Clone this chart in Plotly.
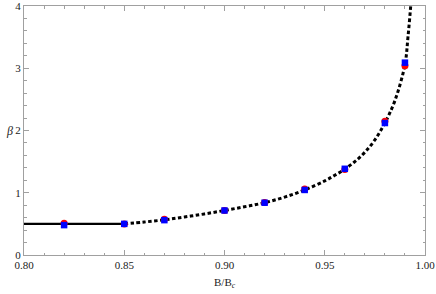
import plotly.graph_objects as go

# Data points
pts_x = [0.82, 0.85, 0.87, 0.90, 0.92, 0.94, 0.96, 0.98, 0.99]
red_y = [0.51, 0.50, 0.575, 0.715, 0.845, 1.06, 1.375, 2.15, 3.04]
blue_y = [0.48, 0.50, 0.56, 0.715, 0.84, 1.045, 1.385, 2.12, 3.09]

# Solid segment
solid_x = [0.80, 0.85]
solid_y = [0.50, 0.50]

# Dotted curve
curve_x = [0.85, 0.86, 0.87, 0.88, 0.89, 0.90, 0.91, 0.92, 0.93, 0.94, 0.95,
           0.955, 0.96, 0.965, 0.97, 0.975, 0.98, 0.985, 0.99, 0.9915, 0.993, 0.994]
curve_y = [0.50, 0.53, 0.565, 0.61, 0.66, 0.715, 0.775, 0.84, 0.93, 1.045, 1.19,
           1.28, 1.38, 1.50, 1.65, 1.85, 2.12, 2.48, 3.06, 3.5, 4.05, 4.5]

x_tickvals = [0.80, 0.85, 0.90, 0.95, 1.00]
x_ticktext = ["0.80", "0.85", "0.90", "0.95", "1.00"]
y_tickvals = [0, 1, 2, 3, 4]
y_ticktext = ["0", "1", "2", "3", "4"]

fig = go.Figure()
fig.add_trace(go.Scatter(x=solid_x, y=solid_y, mode="lines",
                         line=dict(color="black", width=2.4), showlegend=False))
fig.add_trace(go.Scatter(x=curve_x, y=curve_y, mode="lines",
                         line=dict(color="black", width=3, dash="3.5px,2.5px", shape="spline"),
                         showlegend=False))
fig.add_trace(go.Scatter(x=pts_x, y=red_y, mode="markers",
                         marker=dict(color="red", size=7, symbol="circle"),
                         showlegend=False))
fig.add_trace(go.Scatter(x=pts_x, y=blue_y, mode="markers",
                         marker=dict(color="blue", size=6.5, symbol="square"),
                         showlegend=False))

axis_common = dict(
    showgrid=False, zeroline=False, showline=True, linecolor="#a0a0a0", linewidth=1,
    ticks="inside", ticklen=5, tickcolor="#a0a0a0", tickwidth=1, mirror="allticks",
    tickfont=dict(family="Liberation Serif", size=11, color="#222"),
    automargin=False, ticklabeloverflow="allow",
)

fig.update_xaxes(range=[0.80, 1.00], tickvals=x_tickvals, ticktext=x_ticktext,
                 minor=dict(dtick=0.01, ticks="inside", ticklen=2.5, tickcolor="#a0a0a0"),
                 **axis_common)
fig.update_yaxes(range=[0, 4.0001], tickvals=y_tickvals, ticktext=y_ticktext,
                 minor=dict(dtick=0.2, ticks="inside", ticklen=2.5, tickcolor="#a0a0a0"),
                 **axis_common)

fig.add_annotation(text="B/B<sub><i>c</i></sub>", xref="paper", yref="paper",
                   x=0.5, y=-0.112, xanchor="center", yanchor="middle", showarrow=False,
                   font=dict(family="Liberation Serif", size=11, color="#222"))
fig.add_annotation(text="<i>β</i>", xref="paper", yref="paper",
                   x=-0.037, y=0.498, xanchor="center", yanchor="middle", showarrow=False,
                   font=dict(family="Liberation Serif", size=12, color="#222"))

fig.update_layout(width=436, height=294, margin=dict(l=24, r=11, t=6, b=39),
                  plot_bgcolor="white", paper_bgcolor="white")

fig.write_html("out.html", config={"displayModeBar": False},
               post_script="document.body.style.margin='0';")
